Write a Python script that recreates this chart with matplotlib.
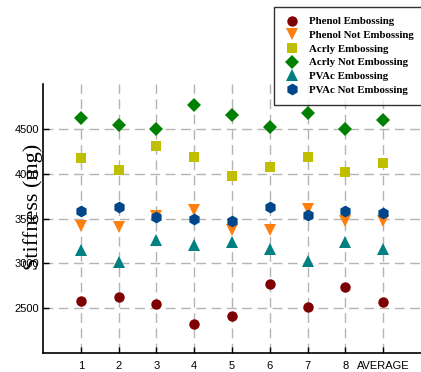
import matplotlib.pyplot as plt

samples = ["1", "2", "3", "4", "5", "6", "7", "8", "AVERAGE"]

phenol_emb = [2582, 2626, 2548, 2321, 2418, 2768, 2511, 2735, 2567]
phenol_not = [3420, 3406, 3525, 3592, 3376, 3368, 3610, 3469, 3476]
acrly_emb = [4170, 4039, 4304, 4192, 3976, 4077, 4189, 4021, 4122]
acrly_not = [4625, 4547, 4494, 4766, 4654, 4520, 4681, 4494, 4595]
pvac_emb = [3144, 3014, 3256, 3200, 3234, 3160, 3029, 3234, 3160]
pvac_not = [3581, 3630, 3514, 3496, 3469, 3630, 3544, 3589, 3558]

series = [
    ("Phenol Embossing", phenol_emb, "o", "#7f0000", 7.5),
    ("Phenol Not Embossing", phenol_not, "v", "#ff7f0e", 8),
    ("Acrly Embossing", acrly_emb, "s", "#bfbf00", 7),
    ("Acrly Not Embossing", acrly_not, "D", "#008000", 7),
    ("PVAc Embossing", pvac_emb, "^", "#008080", 8),
    ("PVAc Not Embossing", pvac_not, "h", "#00468b", 8.5),
]

fig = plt.figure(figsize=(4.21, 3.72), dpi=100)
ax = fig.add_axes([0.102, 0.051, 0.898, 0.723])

x = list(range(1, len(samples) + 1))
for label, vals, marker, color, ms in series:
    ax.plot(x, vals, linestyle="none", marker=marker, color=color,
            markersize=ms, markeredgewidth=0, label=label)

ax.set_xlim(0, 10)
ax.set_ylim(2000, 5000)
ax.set_xticks(x)
ax.set_xticklabels(samples, fontsize=8, family="Liberation Sans")
ax.set_yticks([2500, 3000, 3500, 4000, 4500])
ax.set_yticklabels(["2500", "3000", "3500", "4000", "4500"], fontsize=8,
                   family="Liberation Sans")
ax.tick_params(direction="in", length=4, width=1, pad=3)
ax.tick_params(axis="x", pad=6)

ax.grid(True, color="#b4b4b4", linestyle=(0, (7, 4)), linewidth=1)
ax.set_axisbelow(True)
for side in ["top", "right"]:
    ax.spines[side].set_visible(False)
for side in ["left", "bottom"]:
    ax.spines[side].set_linewidth(1.2)

# the label sits over the tick labels, as in the source figure
ax.set_ylabel("Stiffness (mg)", family="Liberation Serif", fontsize=16)
ax.yaxis.set_label_coords(0.0, 0.545)

leg = fig.legend(loc="upper left", bbox_to_anchor=(274 / 421, 1 - 7 / 372),
                 prop={"family": "Liberation Serif", "weight": "bold", "size": 7.8},
                 frameon=True, fancybox=False, edgecolor="black",
                 borderpad=0.9, labelspacing=0.38, handletextpad=0.7,
                 handlelength=1.6, borderaxespad=0)
leg.get_frame().set_linewidth(1)

fig.savefig("out.png", dpi=100)
